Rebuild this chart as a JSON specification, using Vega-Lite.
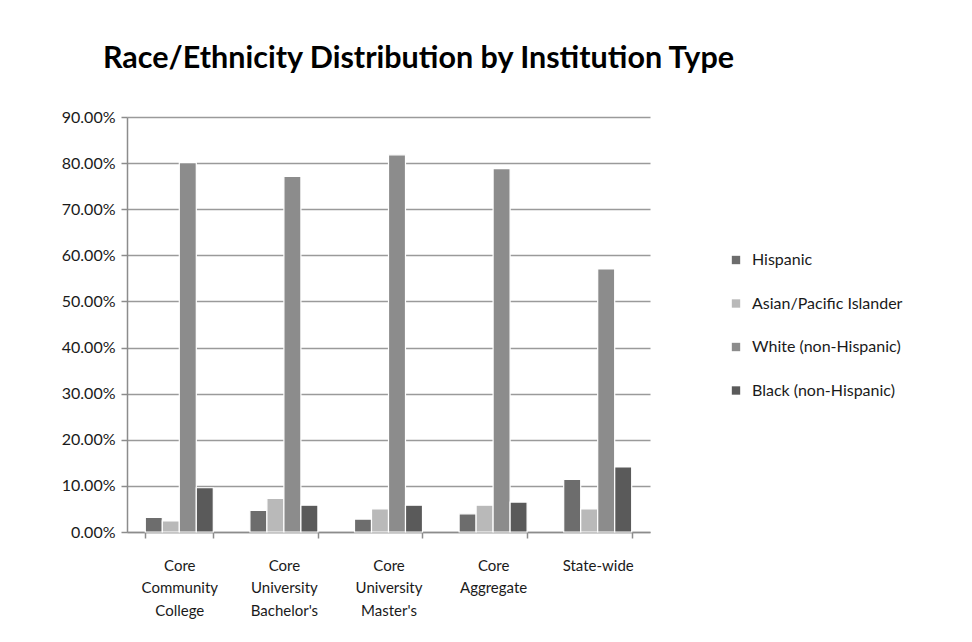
{
  "$schema": "https://vega.github.io/schema/vega-lite/v6.json",
  "width": 523,
  "height": 415,
  "autosize": {"type": "none"},
  "padding": {"left": 127, "top": 117, "right": 322, "bottom": 110},
  "background": "white",
  "title": {
    "text": "Race/Ethnicity Distribution by Institution Type",
    "anchor": "start",
    "frame": "group",
    "dx": -24,
    "offset": 35,
    "font": "Lato",
    "fontSize": 30.5,
    "fontWeight": "bold",
    "color": "#000000"
  },
  "data": {
    "values": [
      {"institution": "Core Community College", "group": "Hispanic", "share": 0.0315},
      {"institution": "Core Community College", "group": "Asian/Pacific Islander", "share": 0.024},
      {"institution": "Core Community College", "group": "White (non-Hispanic)", "share": 0.801},
      {"institution": "Core Community College", "group": "Black (non-Hispanic)", "share": 0.096},
      {"institution": "Core University Bachelor's", "group": "Hispanic", "share": 0.047},
      {"institution": "Core University Bachelor's", "group": "Asian/Pacific Islander", "share": 0.073},
      {"institution": "Core University Bachelor's", "group": "White (non-Hispanic)", "share": 0.771},
      {"institution": "Core University Bachelor's", "group": "Black (non-Hispanic)", "share": 0.058},
      {"institution": "Core University Master's", "group": "Hispanic", "share": 0.028},
      {"institution": "Core University Master's", "group": "Asian/Pacific Islander", "share": 0.050},
      {"institution": "Core University Master's", "group": "White (non-Hispanic)", "share": 0.818},
      {"institution": "Core University Master's", "group": "Black (non-Hispanic)", "share": 0.058},
      {"institution": "Core Aggregate", "group": "Hispanic", "share": 0.0395},
      {"institution": "Core Aggregate", "group": "Asian/Pacific Islander", "share": 0.058},
      {"institution": "Core Aggregate", "group": "White (non-Hispanic)", "share": 0.788},
      {"institution": "Core Aggregate", "group": "Black (non-Hispanic)", "share": 0.065},
      {"institution": "State-wide", "group": "Hispanic", "share": 0.114},
      {"institution": "State-wide", "group": "Asian/Pacific Islander", "share": 0.050},
      {"institution": "State-wide", "group": "White (non-Hispanic)", "share": 0.5705},
      {"institution": "State-wide", "group": "Black (non-Hispanic)", "share": 0.141}
    ]
  },
  "mark": {"type": "bar", "stroke": "white", "strokeWidth": 1.2},
  "encoding": {
    "x": {
      "field": "institution",
      "type": "nominal",
      "sort": null,
      "title": null,
      "scale": {"paddingInner": 0.35, "paddingOuter": 0.175},
      "axis": {
        "labelAngle": 0,
        "labelExpr": "split(datum.label, ' ')",
        "labelLineHeight": 22.5,
        "labelPadding": 20,
        "labelBaseline": "top",
        "labelFont": "Lato",
        "labelFontSize": 15,
        "labelColor": "#1a1a1a",
        "tickBand": "extent",
        "tickSize": 6,
        "tickColor": "#8c8c8c",
        "domainColor": "#8c8c8c",
        "domainWidth": 1.5,
        "tickWidth": 1.5
      }
    },
    "xOffset": {
      "field": "group",
      "type": "nominal",
      "sort": ["Hispanic", "Asian/Pacific Islander", "White (non-Hispanic)", "Black (non-Hispanic)"],
      "scale": {"paddingInner": 0, "paddingOuter": 0}
    },
    "y": {
      "field": "share",
      "type": "quantitative",
      "title": null,
      "scale": {"domain": [0, 0.9], "nice": false},
      "axis": {
        "values": [0, 0.1, 0.2, 0.3, 0.4, 0.5, 0.6, 0.7, 0.8, 0.9],
        "format": ".2%",
        "labelFont": "Lato",
        "labelFontSize": 16,
        "labelColor": "#1a1a1a",
        "labelPadding": 6,
        "tickSize": 6,
        "tickColor": "#8c8c8c",
        "tickWidth": 1.5,
        "domainColor": "#8c8c8c",
        "domainWidth": 1.5,
        "grid": true,
        "gridColor": "#9a9a9a",
        "gridWidth": 1.5
      }
    },
    "color": {
      "field": "group",
      "type": "nominal",
      "sort": ["Hispanic", "Asian/Pacific Islander", "White (non-Hispanic)", "Black (non-Hispanic)"],
      "scale": {
        "domain": ["Hispanic", "Asian/Pacific Islander", "White (non-Hispanic)", "Black (non-Hispanic)"],
        "range": ["#6d6d6d", "#b9b9b9", "#8c8c8c", "#5a5a5a"]
      },
      "legend": {
        "title": null,
        "orient": "none",
        "legendX": 601,
        "legendY": 135,
        "symbolType": "square",
        "symbolSize": 70,
        "symbolStrokeWidth": 0,
        "labelFont": "Lato",
        "labelFontSize": 16,
        "labelColor": "#1a1a1a",
        "labelOffset": 8,
        "rowPadding": 27.5
      }
    }
  },
  "config": {
    "view": {"stroke": null}
  }
}
